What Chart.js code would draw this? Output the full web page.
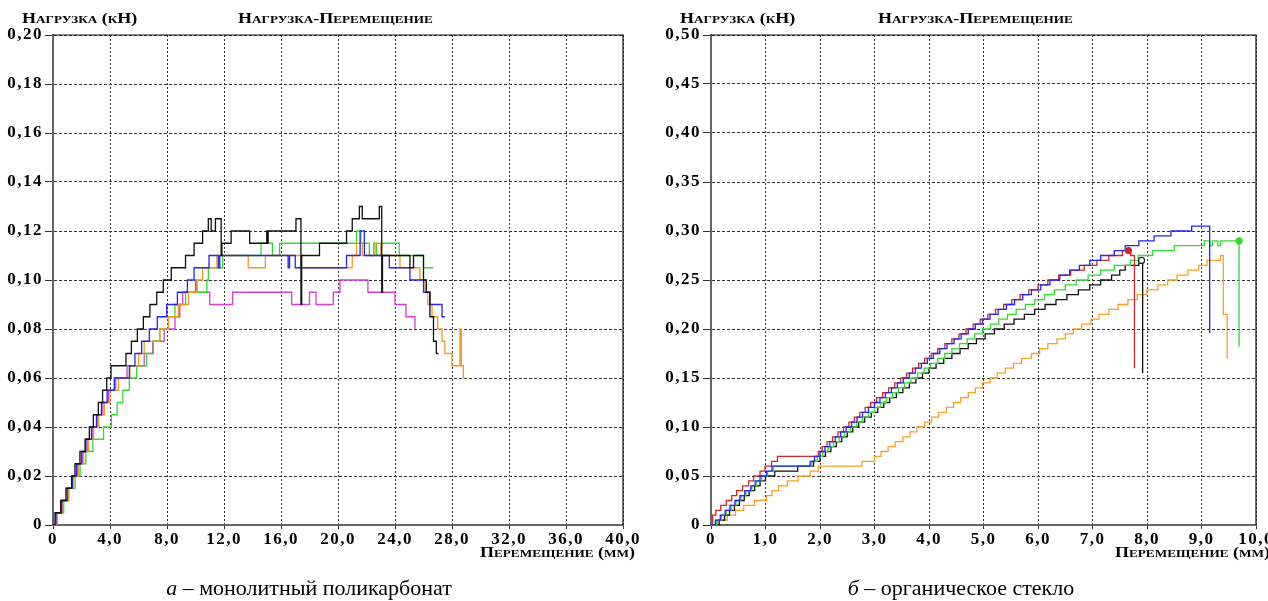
<!DOCTYPE html>
<html><head><meta charset="utf-8">
<script src="https://cdn.jsdelivr.net/npm/chart.js@4.4.1/dist/chart.umd.min.js"></script>
<style>
html,body{margin:0;padding:0;background:#fff;}
#wrap{position:relative;width:1268px;height:601px;overflow:hidden;font-family:'Liberation Serif','Times New Roman',serif;color:#000;}
canvas{position:absolute;top:0;}
.sc{position:absolute;font-weight:bold;font-variant:small-caps;font-size:15px;white-space:nowrap;line-height:1;transform-origin:0 0;transform:scaleX(1.2);}
.cap{position:absolute;font-size:22px;white-space:nowrap;line-height:1;width:440px;text-align:center;}
</style></head>
<body><div id="wrap">
<canvas id="c1" width="662" height="601" style="left:0"></canvas>
<canvas id="c2" width="634" height="601" style="left:634px"></canvas>
<div class="sc" style="left:22px;top:11px">Нагрузка (кН)</div>
<div class="sc" style="left:238px;top:11px">Нагрузка-Перемещение</div>
<div class="sc" style="left:480px;top:545px">Перемещение (мм)</div>
<div class="sc" style="left:680px;top:11px">Нагрузка (кН)</div>
<div class="sc" style="left:878px;top:11px">Нагрузка-Перемещение</div>
<div class="sc" style="left:1115px;top:545px">Перемещение (мм)</div>
<div class="cap" style="left:89px;top:577px"><i>а</i> – монолитный поликарбонат</div>
<div class="cap" style="left:741px;top:577px"><i>б</i> – органическое стекло</div>
</div>
<script>
// ---- tick labels ----
const pcXTicks = ['0','4,0','8,0','12,0','16,0','20,0','24,0','28,0','32,0','36,0','40,0'];
const pcYTicks = ['0','0,02','0,04','0,06','0,08','0,10','0,12','0,14','0,16','0,18','0,20'];
const glXTicks = ['0','1,0','2,0','3,0','4,0','5,0','6,0','7,0','8,0','9,0','10,0'];
const glYTicks = ['0','0,05','0,10','0,15','0,20','0,25','0,30','0,35','0,40','0,45','0,50'];

// ---- а: монолитный поликарбонат (x mm, y kN) ----
const pcBlackX = [0,0.14,0.54,0.91,1.31,1.54,1.89,2.25,2.55,2.83,3.18,3.48,3.77,4.07,5.12,5.5,5.92,6.34,6.8,7.28,7.74,8.3,9.3,9.9,10.5,10.9,11.1,11.4,11.8,11.85,12.5,13.8,15.0,15.05,15.1,17.05,17.4,17.45,18.7,20.6,21.0,21.5,21.7,22.9,23.07,23.12,25.05,25.3,26.0,26.2,26.45,26.7,26.9,27.05];
const pcBlackY = [0,.005,.01,.015,.02,.025,.03,.035,.04,.045,.05,.055,.06,.065,.07,.075,.08,.085,.09,.095,.1,.105,.11,.115,.12,.125,.12,.125,.11,.115,.12,.115,.12,.115,.12,.125,.09,.11,.115,.12,.125,.13,.125,.13,.095,.11,.105,.11,.1,.095,.085,.075,.07,.07];
const pcBlueX = [0,0.2,0.6,1.0,1.35,1.65,2.0,2.3,2.7,3.05,3.4,3.8,4.3,5.36,5.75,6.22,6.76,7.32,7.98,8.73,9.43,9.9,10.95,11.6,11.7,16.5,16.6,17.0,20.6,21.55,21.85,23.6,25.05,26.0,26.45,27.3,27.5];
const pcBlueY = [0,.005,.01,.015,.02,.025,.03,.035,.04,.045,.05,.055,.06,.065,.07,.075,.08,.085,.09,.095,.1,.105,.11,.105,.11,.105,.11,.105,.11,.12,.11,.105,.1,.095,.09,.085,.085];
const pcOrangeX = [0,0.3,0.7,1.1,1.45,1.8,2.15,2.5,2.85,3.2,3.6,4.0,4.6,5.4,6.0,6.4,7.5,8.1,8.8,9.5,10.1,10.5,11.5,13.7,14.9,17.4,21.0,21.3,21.7,22.6,23.0,24.35,25.75,26.1,26.3,26.6,27.0,27.3,27.5,28.0,28.56,28.65,28.8,28.9];
const pcOrangeY = [0,.005,.01,.015,.02,.025,.03,.035,.04,.045,.05,.055,.06,.065,.07,.075,.08,.085,.09,.095,.1,.105,.11,.105,.11,.105,.11,.115,.11,.115,.11,.105,.1,.095,.09,.085,.08,.075,.07,.065,.08,.065,.06,.06];
const pcGreenX = [0,0.3,0.75,1.1,1.55,1.9,2.3,2.8,3.55,4.1,4.5,4.9,5.36,5.87,6.57,7.04,7.5,8.1,8.56,9.3,10.8,10.9,11.9,14.6,15.4,15.9,21.3,21.6,22.2,22.5,22.7,23.0,24.3,26.0,26.7];
const pcGreenY = [0,.005,.01,.015,.02,.025,.03,.035,.04,.045,.05,.055,.06,.065,.07,.075,.08,.085,.09,.095,.1,.105,.11,.115,.11,.115,.12,.115,.11,.115,.11,.115,.11,.105,.105];
const pcMagentaX = [0,0.25,0.65,1.05,1.4,1.7,2.05,2.4,2.75,3.1,3.5,3.9,4.4,5.2,6.4,7.0,7.8,8.56,8.9,9.1,10.0,10.1,11.0,12.6,16.75,18.0,18.46,19.67,20.14,22.1,24.0,24.77,25.4];
const pcMagentaY = [0,.005,.01,.015,.02,.025,.03,.035,.04,.045,.05,.055,.06,.065,.07,.075,.08,.085,.09,.095,.1,.095,.09,.095,.09,.095,.09,.095,.1,.095,.09,.085,.08];

// ---- б: органическое стекло (x mm, y kN) ----
const glRedX = [0,0.03,0.09,0.18,0.28,0.38,0.47,0.58,0.69,0.78,0.9,0.99,1.11,1.22,1.97,2.04,2.13,2.23,2.33,2.43,2.53,2.63,2.73,2.83,2.93,3.04,3.15,3.26,3.37,3.48,3.59,3.7,3.81,3.92,4.04,4.16,4.29,4.42,4.55,4.68,4.81,4.94,5.08,5.22,5.37,5.52,5.67,5.83,6.0,6.18,6.38,6.6,6.85,7.08,7.3,7.55,7.7,7.77];
const glRedY = [0,.01,.015,.02,.025,.03,.035,.04,.045,.05,.055,.06,.065,.07,.075,.08,.085,.09,.095,.1,.105,.11,.115,.12,.125,.13,.135,.14,.145,.15,.155,.16,.165,.17,.175,.18,.185,.19,.195,.2,.205,.21,.215,.22,.225,.23,.235,.24,.245,.25,.255,.26,.265,.27,.275,.28,.275,.16];
const glBlueX = [0,0.08,0.17,0.26,0.35,0.44,0.53,0.62,0.73,0.81,0.9,1.02,1.12,1.82,1.9,2.0,2.09,2.18,2.28,2.38,2.48,2.58,2.68,2.78,2.89,3.0,3.1,3.2,3.31,3.42,3.53,3.64,3.75,3.86,3.97,4.08,4.2,4.33,4.46,4.59,4.72,4.85,4.98,5.12,5.27,5.42,5.57,5.72,5.88,6.05,6.22,6.4,6.58,6.76,6.95,7.15,7.4,7.6,7.85,8.13,8.44,8.82,9.15];
const glBlueY = [0,.005,.01,.015,.02,.025,.03,.035,.04,.045,.05,.055,.06,.065,.07,.075,.08,.085,.09,.095,.1,.105,.11,.115,.12,.125,.13,.135,.14,.145,.15,.155,.16,.165,.17,.175,.18,.185,.19,.195,.2,.205,.21,.215,.22,.225,.23,.235,.24,.245,.25,.255,.26,.265,.27,.275,.28,.285,.29,.295,.3,.305,.196];
const glGreenX = [0,0.1,0.19,0.28,0.37,0.46,0.55,0.64,0.75,0.84,0.93,1.04,1.15,1.85,1.95,2.05,2.15,2.25,2.35,2.45,2.56,2.67,2.78,2.89,3.0,3.11,3.22,3.33,3.44,3.55,3.67,3.79,3.91,4.03,4.16,4.29,4.42,4.56,4.7,4.84,4.98,5.13,5.28,5.44,5.6,5.77,5.94,6.12,6.3,6.5,6.7,6.92,7.15,7.4,7.7,7.84,8.1,8.5,9.05,9.15,9.2,9.3,9.35,9.69];
const glGreenY = [0,.005,.01,.015,.02,.025,.03,.035,.04,.045,.05,.055,.06,.065,.07,.075,.08,.085,.09,.095,.1,.105,.11,.115,.12,.125,.13,.135,.14,.145,.15,.155,.16,.165,.17,.175,.18,.185,.19,.195,.2,.205,.21,.215,.22,.225,.23,.235,.24,.245,.25,.255,.26,.265,.27,.275,.28,.285,.29,.285,.29,.285,.29,.182];
const glBlackX = [0,0.15,0.25,0.34,0.43,0.52,0.61,0.7,0.8,0.9,1.0,1.17,1.59,1.88,2.0,2.1,2.2,2.3,2.4,2.5,2.6,2.71,2.82,2.94,3.06,3.17,3.28,3.4,3.52,3.64,3.76,3.88,4.0,4.13,4.27,4.42,4.57,4.72,4.87,5.03,5.2,5.38,5.56,5.75,5.94,6.13,6.33,6.53,6.74,6.95,7.15,7.35,7.5,7.6,7.85,7.92];
const glBlackY = [0,.005,.01,.015,.02,.025,.03,.035,.04,.045,.05,.055,.06,.065,.07,.075,.08,.085,.09,.095,.1,.105,.11,.115,.12,.125,.13,.135,.14,.145,.15,.155,.16,.165,.17,.175,.18,.185,.19,.195,.2,.205,.21,.215,.22,.225,.23,.235,.24,.245,.25,.255,.26,.265,.27,.155];
const glOrangeX = [0,0.12,0.3,0.45,0.6,0.8,1.02,1.12,1.24,1.4,1.6,1.82,1.97,2.77,3.0,3.12,3.25,3.38,3.52,3.65,3.78,3.92,4.05,4.18,4.32,4.45,4.58,4.72,4.85,4.98,5.12,5.25,5.4,5.55,5.7,5.88,6.03,6.18,6.35,6.5,6.65,6.8,6.97,7.12,7.3,7.47,7.65,7.82,8.0,8.2,8.38,8.55,8.75,8.95,9.1,9.35,9.4,9.47];
const glOrangeY = [0,.005,.01,.015,.02,.025,.03,.035,.04,.045,.05,.055,.06,.065,.07,.075,.08,.085,.09,.095,.1,.105,.11,.115,.12,.125,.13,.135,.14,.145,.15,.155,.16,.165,.17,.175,.18,.185,.19,.195,.2,.205,.21,.215,.22,.225,.23,.235,.24,.245,.25,.255,.26,.265,.27,.275,.215,.17];
// end-point markers
const glMarkRedX = [7.66], glMarkRedY = [0.28];
const glMarkBlackX = [7.9], glMarkBlackY = [0.27];
const glMarkGreenX = [9.69], glMarkGreenY = [0.29];

const pts = (xs, ys) => xs.map((x, i) => ({x: x, y: ys[i]}));
const stepLine = (xs, ys, color) => ({data: pts(xs, ys), borderColor: color, borderWidth: 1.3, pointRadius: 0, stepped: 'before', fill: false, tension: 0});
const marker = (xs, ys, color, fillColor) => ({data: pts(xs, ys), showLine: false, pointRadius: 3, pointBorderWidth: 1.2, pointBorderColor: color, pointBackgroundColor: fillColor});

const tickFont = {family: "'Liberation Serif', serif", weight: 'bold', size: 17};

const framePlugin = {
  id: 'frame',
  beforeDraw(chart) { chart.ctx.letterSpacing = '1.5px'; },
  afterDatasetsDraw(chart) {
    const {ctx, chartArea: a} = chart;
    ctx.save();
    ctx.strokeStyle = '#111';
    ctx.lineWidth = 1.2;
    ctx.beginPath();
    ctx.moveTo(a.left, a.top); ctx.lineTo(a.right, a.top); ctx.lineTo(a.right, a.bottom);
    ctx.stroke();
    ctx.restore();
  }
};

function makeChart(id, xMax, xStep, yMax, yStep, xLabels, yLabels, yWidth, padRight, datasets) {
  return new Chart(document.getElementById(id), {
    type: 'line',
    data: {datasets: datasets},
    plugins: [framePlugin],
    options: {
      responsive: false, animation: false, devicePixelRatio: 1,
      layout: {padding: {top: 35, right: padRight, left: 0, bottom: 0}},
      plugins: {legend: {display: false}, tooltip: {enabled: false}},
      scales: {
        x: {
          type: 'linear', min: 0, max: xMax,
          ticks: {stepSize: xStep, autoSkip: false, maxRotation: 0, font: tickFont, color: '#000', padding: 0,
                  callback: (v, i) => xLabels[i]},
          grid: {color: '#333', lineWidth: 1, tickLength: 4, tickColor: '#333'},
          border: {display: true, color: '#666', width: 2, dash: [2, 2]},
          afterFit: s => { s.height = 76; s.paddingLeft = 0; s.paddingRight = 0; }
        },
        y: {
          type: 'linear', min: 0, max: yMax,
          ticks: {stepSize: yStep, autoSkip: false, font: tickFont, color: '#000', padding: 2,
                  callback: (v, i) => yLabels[i]},
          grid: {color: '#333', lineWidth: 1, tickLength: 8, tickColor: '#333'},
          border: {display: true, color: '#666', width: 2, dash: [3, 2]},
          afterFit: s => { s.width = yWidth; s.paddingTop = 0; s.paddingBottom = 0; }
        }
      }
    }
  });
}

makeChart('c1', 40, 4, 0.2, 0.02, pcXTicks, pcYTicks, 53, 39, [
  stepLine(pcBlackX, pcBlackY, '#111111'),
  stepLine(pcBlueX, pcBlueY, '#2626f0'),
  stepLine(pcOrangeX, pcOrangeY, '#f39a22'),
  stepLine(pcGreenX, pcGreenY, '#2fdc2f'),
  stepLine(pcMagentaX, pcMagentaY, '#d63cd6')
]);

makeChart('c2', 10, 1, 0.5, 0.05, glXTicks, glYTicks, 77, 12, [
  marker(glMarkRedX, glMarkRedY, '#c82828', '#c82828'),
  marker(glMarkBlackX, glMarkBlackY, '#222222', '#ffffff'),
  marker(glMarkGreenX, glMarkGreenY, '#2fdc2f', '#2fdc2f'),
  stepLine(glBlueX, glBlueY, '#2626f0'),
  stepLine(glRedX, glRedY, '#cc2a2a'),
  stepLine(glGreenX, glGreenY, '#2fdc2f'),
  stepLine(glBlackX, glBlackY, '#111111'),
  stepLine(glOrangeX, glOrangeY, '#f5a126')
]);
</script>
</body></html>
